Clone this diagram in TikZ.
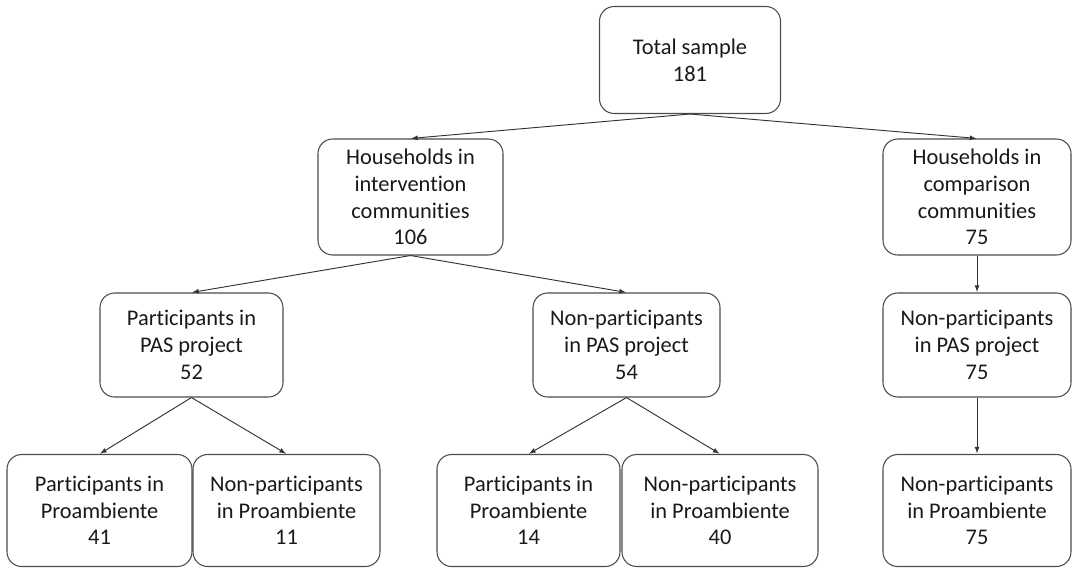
\documentclass[tikz,border=0pt]{standalone}
\usepackage{fontspec}
\setmainfont{Carlito}[Ligatures=NoCommon]
\usepackage{tikz}

\definecolor{boxline}{gray}{0.3}
\definecolor{arrline}{gray}{0.2}

\tikzset{
  box/.style={draw=boxline, line width=0.8pt, rounded corners=11pt, align=center,
    inner sep=2pt, font=\fontsize{16.8}{20}\selectfont, text=black!90},
  link/.style={-latex, draw=arrline, line width=0.7pt, shorten >=0.5pt}
}

\begin{document}
\begin{tikzpicture}[x=0.75pt, y=-0.75pt]

  \useasboundingbox (0,0) rectangle (1073,567);

  \newcommand\RowA{60};
  \newcommand\RowB{197};
  \newcommand\RowC{345};
  \newcommand\RowD{510.5};

  % top level
  \node[box, minimum width=135.75pt, minimum height=80.25pt] (total) at (690,\RowA)
    {Total sample\\181};

  % communities
  \node[box, minimum width=138.75pt, minimum height=87pt] (interv) at (410.5,\RowB)
    {Households in\\intervention\\communities\\106};
  \node[box, minimum width=141pt, minimum height=87pt] (compar) at (977,\RowB)
    {Households in\\comparison\\communities\\75};

  % PAS project
  \node[box, minimum width=137.25pt, minimum height=78pt] (paspart) at (191.5,\RowC)
    {Participants in\\PAS project\\52};
  \node[box, minimum width=140.25pt, minimum height=78pt] (pasnon) at (626.5,\RowC)
    {Non-participants\\in PAS project\\54};
  \node[box, minimum width=141pt, minimum height=78pt] (pascomp) at (977,\RowC)
    {Non-participants\\in PAS project\\75};

  % Proambiente
  \node[box, minimum width=138.75pt, minimum height=84pt] (proA) at (99.5,\RowD)
    {Participants in\\Proambiente\\41};
  \node[box, minimum width=140.25pt, minimum height=84pt] (proB) at (286.5,\RowD)
    {Non-participants\\in Proambiente\\11};
  \node[box, minimum width=137.25pt, minimum height=84pt] (proC) at (528.5,\RowD)
    {Participants in\\Proambiente\\14};
  \node[box, minimum width=147pt, minimum height=84pt] (proD) at (720,\RowD)
    {Non-participants\\in Proambiente\\40};
  \node[box, minimum width=141pt, minimum height=84pt] (proE) at (977,\RowD)
    {Non-participants\\in Proambiente\\75};

  \draw[link] (total.south) -- (interv.north); %% total->intervention
  \draw[link] (total.south) -- (compar.north); %% total->comparison

  \draw[link] (interv.south) -- (paspart.north);
  \draw[link] (interv.south) -- (pasnon.north);
  \draw[link] (compar.south) -- (pascomp.north);

  \draw[link] (paspart.south) -- (proA.north);
  \draw[link] (paspart.south) -- (proB.north);
  \draw[link] (pasnon.south) -- (proC.north);
  \draw[link] (pasnon.south) -- (proD.north);
  \draw[link] (pascomp.south) -- (proE.north); % comparison column

\end{tikzpicture}
\end{document}
